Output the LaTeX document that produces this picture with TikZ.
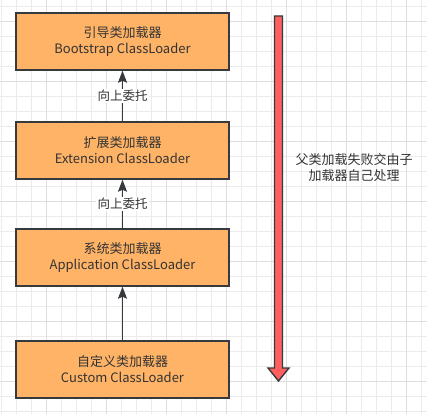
\documentclass[tikz,border=0pt]{standalone}
\usepackage{fontspec}
\setmainfont{Noto Sans CJK SC}
\usetikzlibrary{arrows.meta}
\definecolor{boxfill}{HTML}{FFB366}
\definecolor{boxline}{HTML}{36393D}
\definecolor{txt}{HTML}{333333}
\definecolor{redfill}{HTML}{FF5F5F}
\definecolor{gridminor}{HTML}{EBEBEB}
\definecolor{gridmajor}{HTML}{DEDEDE}
\tikzset{
  loader/.style={draw=boxline, line width=1.4pt, fill=boxfill, minimum width=213pt, minimum height=57pt, align=center, text=txt, font=\fontsize{13}{16}\selectfont, inner sep=0pt},
  delegate/.style={draw=boxline, line width=1.5pt, -{Stealth[length=12pt,width=9pt,inset=2pt]}},
  lbl/.style={fill=white, text=txt, font=\fontsize{12.5}{15}\selectfont, inner sep=1.5pt},
  note/.style={align=center, text=txt, font=\fontsize{13}{16}\selectfont}
}
\begin{document}
\begin{tikzpicture}[x=1pt,y=-1pt]
\useasboundingbox (0,0) rectangle (427,414);
\fill[white] (0,0) rectangle (427,414);
% grid
\foreach \i in {0,...,28} {\draw[gridminor, line width=0.8pt] ({1.7+15*\i},0) -- ({1.7+15*\i},414);}
\foreach \i in {0,...,27} {\draw[gridminor, line width=0.8pt] (0,{6.7+15*\i}) -- (427,{6.7+15*\i});}
\foreach \i in {0,...,6} {\draw[gridmajor, line width=0.9pt] ({46.7+60*\i},0) -- ({46.7+60*\i},414);}
\foreach \i in {0,...,6} {\draw[gridmajor, line width=0.9pt] (0,{21.7+60*\i}) -- (427,{21.7+60*\i});}
% boxes
\node[loader] (boot) at (122.5,41.5) {引导类加载器\\Bootstrap ClassLoader};
\node[loader] (ext) at (122.5,150.5) {扩展类加载器\\Extension ClassLoader};
\node[loader] (app) at (122.5,257.5) {系统类加载器\\Application ClassLoader};
\node[loader] (cust) at (122.5,369.5) {自定义类加载器\\Custom ClassLoader};
% connectors
\draw[delegate] (ext.north) -- node[lbl] {向上委托} (boot.south);
\draw[delegate] (app.north) -- node[lbl] {向上委托} (ext.south);
\draw[delegate] (cust.north) -- (app.south);
% big red arrow
\coordinate (bigtop) at (278.5,16);
\coordinate (bigtip) at (278.5,381);
\draw[boxline, line width=1.4pt, fill=redfill, line join=miter]
  (274.5,16) -- (282.5,16) -- (282.5,368) -- (289,368) -- (bigtip) -- (268,368) -- (274.5,368) -- cycle;
\node[note] (fail) at (354,168) {父类加载失败交由子\\加载器自己处理};
\end{tikzpicture}
\end{document}
